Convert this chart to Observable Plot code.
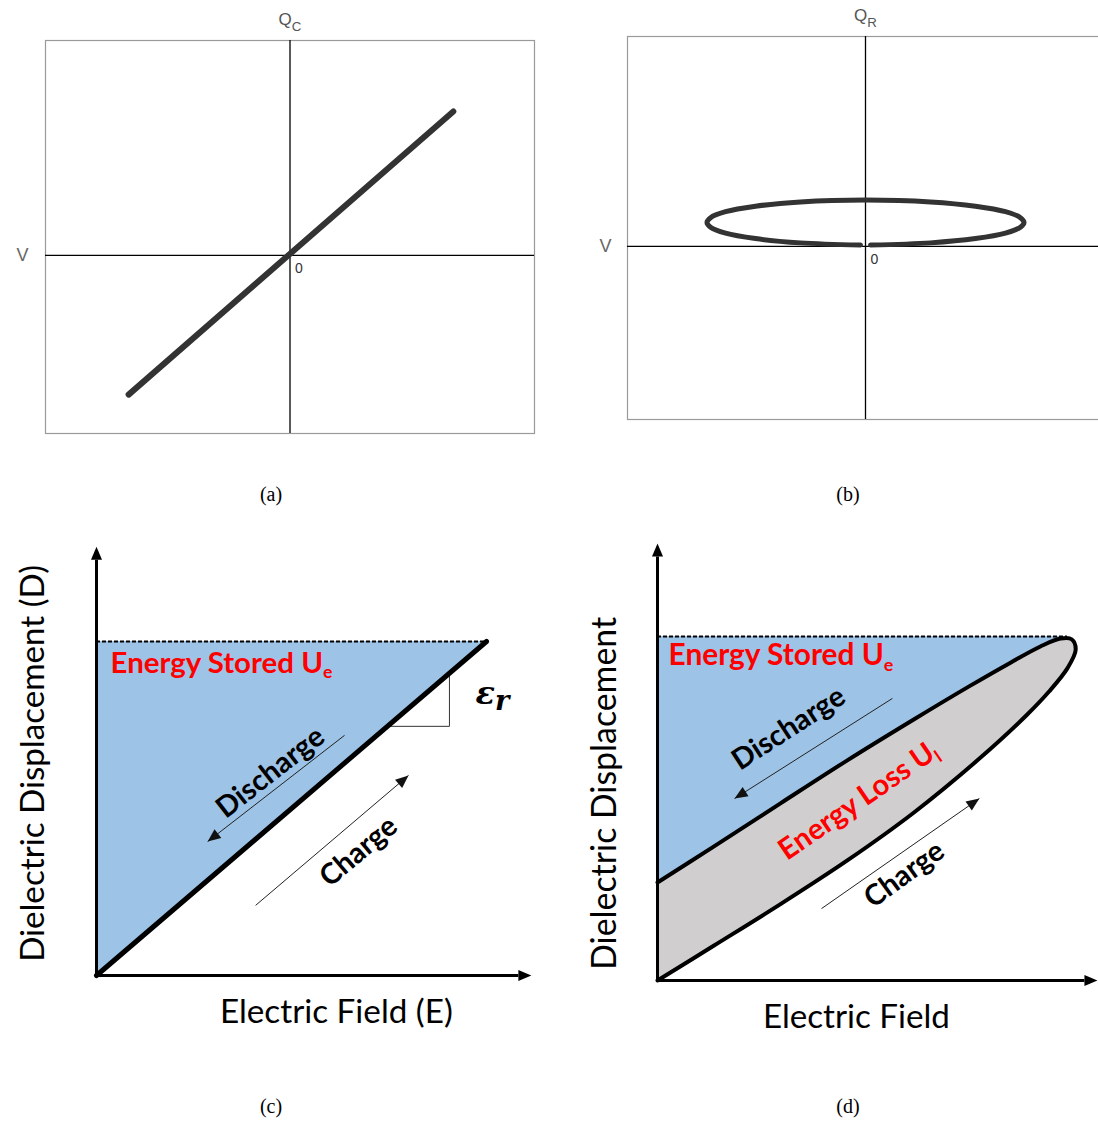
<!DOCTYPE html>
<html><head><meta charset="utf-8">
<script src="https://cdn.jsdelivr.net/npm/d3@7"></script>
<script src="https://cdn.jsdelivr.net/npm/@observablehq/plot@0.6"></script>
<style>
html,body{margin:0;padding:0;background:#fff;}
body{width:1098px;height:1121px;overflow:hidden;position:relative;}
.panel{position:absolute;}
.panel svg{max-width:none !important;}
.cap{position:absolute;font-family:"Liberation Serif","Times New Roman",serif;font-size:20px;color:#000;transform:translate(-50%,-50%);white-space:nowrap;}
</style></head><body>
<script>
// ---------- DATA ----------
// (a) capacitor: V (horizontal) vs Q_C (vertical), arbitrary units
const aV = [-0.660, 0.668];
const aQ = [-0.569, 0.589];
// (b) resistor loop: V vs Q_R
const bV = [0.021,0.273,0.462,0.588,0.651,0.666,0.651,0.588,0.462,0.273,0,-0.273,-0.462,-0.588,-0.651,-0.666,-0.651,-0.588,-0.462,-0.273,-0.021];
const bQ = [0.006,0.015,0.033,0.056,0.081,0.101,0.121,0.146,0.169,0.187,0.195,0.187,0.169,0.146,0.121,0.101,0.081,0.056,0.033,0.015,0.006];
// (c) linear dielectric: E vs D
const cE = [0, 1];
const cD = [0, 1];
const cDmax = 1;
// (d) lossy dielectric hysteresis
const dUpperE = [0, 0.137, 0.300, 0.463, 0.624, 0.760, 0.861, 0.934, 0.983];
const dUpperD = [0.285, 0.389, 0.515, 0.640, 0.758, 0.855, 0.924, 0.971, 0.994];
const dTipE = [1.010, 1.020];
const dTipD = [0.992, 0.962];
const dLowerE = [1.0, 0.955, 0.900, 0.788, 0.624, 0.463, 0.300, 0.137, 0];
const dLowerD = [0.908, 0.840, 0.771, 0.648, 0.487, 0.349, 0.222, 0.101, 0];
const dDmax = 1;
// annotation arrows (data units)
const cArrows = [
  {label:"Discharge", x1:0.636, y1:0.719, x2:0.285, y2:0.401},
  {label:"Charge", x1:0.408, y1:0.210, x2:0.800, y2:0.599}
];
const dArrows = [
  {label:"Discharge", x1:0.573, y1:0.820, x2:0.188, y2:0.529},
  {label:"Charge", x1:0.400, y1:0.209, x2:0.785, y2:0.529}
];
const captions = ["(a)", "(b)", "(c)", "(d)"];

// ---------- helpers ----------
const NS = "http://www.w3.org/2000/svg";
function arrowHead(angleDeg, len = 13, half = 5.5) {
  const a = angleDeg * Math.PI / 180, c = Math.cos(a), s = Math.sin(a);
  return {draw(ctx) {
    const bx = -len * c, by = -len * s, px = -s * half, py = c * half;
    ctx.moveTo(0, 0); ctx.lineTo(bx + px, by + py); ctx.lineTo(bx - px, by - py); ctx.closePath();
  }};
}
function screenAngle(a, kx, ky) {
  return Math.atan2(-(a.y2 - a.y1) * ky, (a.x2 - a.x1) * kx) * 180 / Math.PI;
}
const subStyle = {e:[0.6,0.3], l:[0.6,0.3], C:[0.78,0.5], R:[0.78,0.5], r:[0.85,0.22]};
function subify(svg) {
  for (const t of svg.querySelectorAll("text")) {
    const s = t.textContent, i = s.indexOf("_");
    if (i < 0) continue;
    const base = s.slice(0, i), sub = s.slice(i + 1);
    while (t.firstChild) t.removeChild(t.firstChild);
    const t1 = document.createElementNS(NS, "tspan"); t1.textContent = base;
    const t2 = document.createElementNS(NS, "tspan"); t2.textContent = sub;
    const st = subStyle[sub] || [0.65, 0.3];
    t2.setAttribute("font-size", st[0] + "em");
    t2.setAttribute("dy", st[1] + "em");
    t.append(t1, t2);
  }
}
function fit(svg, targets) {
  for (const t of svg.querySelectorAll("text")) {
    const key = t.textContent;
    if (targets[key]) {
      const fs = parseFloat(getComputedStyle(t).fontSize);
      const w = t.getComputedTextLength();
      if (w > 0) t.style.fontSize = (fs * targets[key] / w) + "px";
    }
  }
}
function mount(svg, left, top) {
  const d = document.createElement("div");
  d.className = "panel"; d.style.left = left + "px"; d.style.top = top + "px";
  d.append(svg); document.body.append(d);
  return svg;
}
const baseStyle = {background: "transparent", overflow: "visible", maxWidth: "none"};
const sans = "Liberation Sans, Arial, sans-serif";
const cal = "Lato, Carlito, Calibri, sans-serif";

// ---------- (a) ----------
const aTable = aV.map((v, i) => ({V: v, Q: aQ[i]}));
const plotA = Plot.plot({
  width: 549, height: 460, marginLeft: 45, marginRight: 15, marginTop: 40, marginBottom: 27,
  x: {domain: [-1, 1], axis: null}, y: {domain: [-0.728, 0.879], axis: null},
  style: baseStyle,
  marks: [
    Plot.frame({stroke: "#9a9a9a", strokeWidth: 1.2}),
    Plot.ruleX([0], {stroke: "#000", strokeWidth: 1.3}),
    Plot.ruleY([0], {stroke: "#000", strokeWidth: 1.3}),
    Plot.line(aTable, {x: "V", y: "Q", stroke: "#333", strokeWidth: 6, strokeLinecap: "round"}),
    Plot.text(["Q_C"], {x: 0, text: d => d, frameAnchor: "top", dy: -16, lineAnchor: "bottom", fill: "#555", fontSize: 17, fontFamily: sans}),
    Plot.text(["V"], {y: 0, text: d => d, frameAnchor: "left", dx: -29, fill: "#666", fontSize: 18, fontFamily: sans}),
    Plot.text(["0"], {x: 0, y: 0, text: d => d, dx: 9, dy: 13, fill: "#333", fontSize: 14, fontFamily: sans})
  ]
});
mount(plotA, 0, 0); subify(plotA);

// ---------- (b) ----------
const bTable = bV.map((v, i) => ({V: v, Q: bQ[i]}));
const plotB = Plot.plot({
  width: 569, height: 460, marginLeft: 78, marginRight: 15, marginTop: 36, marginBottom: 41,
  x: {domain: [-1, 1], axis: null}, y: {domain: [-0.727, 0.882], axis: null},
  style: baseStyle,
  marks: [
    Plot.frame({stroke: "#9a9a9a", strokeWidth: 1.2}),
    Plot.ruleX([0], {stroke: "#000", strokeWidth: 1.3}),
    Plot.ruleY([0], {stroke: "#000", strokeWidth: 1.3}),
    Plot.line(bTable, {x: "V", y: "Q", curve: "catmull-rom", stroke: "#333", strokeWidth: 5}),
    Plot.text(["Q_R"], {x: 0, text: d => d, frameAnchor: "top", dy: -16, lineAnchor: "bottom", fill: "#555", fontSize: 17, fontFamily: sans}),
    Plot.text(["V"], {y: 0, text: d => d, frameAnchor: "left", dx: -28, fill: "#666", fontSize: 18, fontFamily: sans}),
    Plot.text(["0"], {x: 0, y: 0, text: d => d, dx: 9, dy: 13, fill: "#333", fontSize: 14, fontFamily: sans})
  ]
});
mount(plotB, 549, 0); subify(plotB);

// ---------- (c) ----------
const cTable = cE.map((e, i) => ({E: e, D: cD[i]}));
const ckx = 390, cky = 334;
const cAxisTopY = 1.284, cAxisEndX = 1.115;
const cSlope = [{E: cD[1] * 0.746, D: 0.746}, {E: 0.905, D: 0.746}, {E: 0.905, D: 0.905}];
const plotC = Plot.plot({
  width: 549, height: 560, marginLeft: 96, marginRight: 63, marginTop: 111, marginBottom: 115,
  x: {domain: [0, 1], axis: null}, y: {domain: [0, 1], axis: null},
  style: baseStyle,
  marks: [
    Plot.areaY(cTable, {x: "E", y1: "D", y2: cDmax, fill: "#9DC3E6"}),
    Plot.line(cSlope, {x: "E", y: "D", stroke: "#333", strokeWidth: 1}),
    Plot.ruleY([cDmax], {x1: 0, x2: 1, stroke: "#000", strokeWidth: 1.8, strokeDasharray: "4,2"}),
    Plot.line(cTable, {x: "E", y: "D", stroke: "#000", strokeWidth: 5, strokeLinecap: "round"}),
    Plot.line([{x: 0, y: cAxisTopY - 13 / cky}, {x: 0, y: 0}, {x: cAxisEndX - 13 / ckx, y: 0}], {x: "x", y: "y", stroke: "#000", strokeWidth: 3, strokeLinejoin: "miter", strokeLinecap: "butt"}),
    Plot.dot([{x: 0, y: cAxisTopY}], {x: "x", y: "y", symbol: arrowHead(-90), fill: "#000", stroke: "none", r: 5}),
    Plot.dot([{x: cAxisEndX, y: 0}], {x: "x", y: "y", symbol: arrowHead(0), fill: "#000", stroke: "none", r: 5}),
    Plot.link(cArrows, {x1: "x1", y1: "y1", x2: "x2", y2: "y2", stroke: "#222", strokeWidth: 1}),
    ...cArrows.map(a => Plot.dot([a], {x: "x2", y: "y2", symbol: arrowHead(screenAngle(a, ckx, cky), 13, 5.5), fill: "#111", stroke: "none", r: 5})),
    Plot.text(["Energy Stored U_e"], {x: 0.036, y: 0.907, text: d => d, textAnchor: "start", lineAnchor: "bottom", fill: "#FF0000", fontWeight: "bold", fontSize: 28, fontFamily: cal}),
    Plot.text(["Discharge"], {x: 0.446, y: 0.608, text: d => d, rotate: -38, fill: "#000", fontWeight: "bold", fontSize: 28, fontFamily: cal}),
    Plot.text(["Charge"], {x: 0.672, y: 0.371, text: d => d, rotate: -40, fill: "#000", fontWeight: "bold", fontSize: 28, fontFamily: cal}),
    Plot.text(["ε_r"], {x: 0.972, y: 0.814, text: d => d, textAnchor: "start", lineAnchor: "bottom", fill: "#000", fontWeight: "bold", fontStyle: "italic", fontSize: 32, fontFamily: "DejaVu Serif, serif"}),
    Plot.text(["Electric Field (E)"], {x: 0.615, y: -0.111, text: d => d, fill: "#000", fontSize: 33, fontFamily: cal}),
    Plot.text(["Dielectric Displacement (D)"], {x: -0.162, y: 0.635, text: d => d, rotate: -90, fill: "#000", fontSize: 33, fontFamily: cal})
  ]
});
mount(plotC, 0, 530); subify(plotC);
fit(plotC, {"Energy Stored Ue": 222, "Discharge": 128, "Charge": 91, "Electric Field (E)": 233, "Dielectric Displacement (D)": 397});

// ---------- (d) ----------
const dUpper = dUpperE.map((e, i) => ({E: e, D: dUpperD[i]}));
const dLoop = [
  ...dUpper,
  ...dTipE.map((e, i) => ({E: e, D: dTipD[i]})),
  ...dLowerE.map((e, i) => ({E: e, D: dLowerD[i]}))
];
const dkx = 410, dky = 344;
const dAxisTopY = 1.270, dAxisEndX = 1.073;
const plotD = Plot.plot({
  width: 549, height: 560, marginLeft: 108, marginRight: 31, marginTop: 106, marginBottom: 110,
  x: {domain: [0, 1], axis: null}, y: {domain: [0, 1], axis: null},
  style: baseStyle,
  marks: [
    Plot.areaY(dUpper, {x: "E", y1: "D", y2: dDmax, curve: "catmull-rom", fill: "#9DC3E6"}),
    Plot.line(dLoop, {x: "E", y: "D", curve: "catmull-rom", fill: "#D0CECE", stroke: "#000", strokeWidth: 4}),
    Plot.ruleY([dDmax], {x1: 0, x2: 1, stroke: "#000", strokeWidth: 1.8, strokeDasharray: "4,2"}),
    Plot.line([{x: 0, y: dAxisTopY - 13 / dky}, {x: 0, y: 0}, {x: dAxisEndX - 13 / dkx, y: 0}], {x: "x", y: "y", stroke: "#000", strokeWidth: 3, strokeLinejoin: "miter", strokeLinecap: "butt"}),
    Plot.dot([{x: 0, y: dAxisTopY}], {x: "x", y: "y", symbol: arrowHead(-90), fill: "#000", stroke: "none", r: 5}),
    Plot.dot([{x: dAxisEndX, y: 0}], {x: "x", y: "y", symbol: arrowHead(0), fill: "#000", stroke: "none", r: 5}),
    Plot.link(dArrows, {x1: "x1", y1: "y1", x2: "x2", y2: "y2", stroke: "#222", strokeWidth: 1}),
    ...dArrows.map(a => Plot.dot([a], {x: "x2", y: "y2", symbol: arrowHead(screenAngle(a, dkx, dky), 13, 5.5), fill: "#111", stroke: "none", r: 5})),
    Plot.text(["Energy Stored U_e"], {x: 0.027, y: 0.916, text: d => d, textAnchor: "start", lineAnchor: "bottom", fill: "#FF0000", fontWeight: "bold", fontSize: 28, fontFamily: cal}),
    Plot.text(["Discharge"], {x: 0.320, y: 0.733, text: d => d, rotate: -33, fill: "#000", fontWeight: "bold", fontSize: 28, fontFamily: cal}),
    Plot.text(["Energy Loss U_l"], {x: 0.490, y: 0.523, text: d => d, rotate: -34.5, fill: "#FF0000", fontWeight: "bold", fontSize: 28, fontFamily: cal}),
    Plot.text(["Charge"], {x: 0.602, y: 0.308, text: d => d, rotate: -36, fill: "#000", fontWeight: "bold", fontSize: 28, fontFamily: cal}),
    Plot.text(["Electric Field"], {x: 0.485, y: -0.108, text: d => d, fill: "#000", fontSize: 33, fontFamily: cal}),
    Plot.text(["Dielectric Displacement"], {x: -0.127, y: 0.544, text: d => d, rotate: -90, fill: "#000", fontSize: 33, fontFamily: cal})
  ]
});
mount(plotD, 549, 530); subify(plotD);
fit(plotD, {"Energy Stored Ue": 225, "Discharge": 128, "Energy Loss Ul": 186, "Charge": 91, "Electric Field": 187, "Dielectric Displacement": 353});

// ---------- captions ----------
const capPos = [[271, 494], [848, 494], [271, 1106], [848, 1106]];
captions.forEach((c, i) => {
  const el = document.createElement("div");
  el.className = "cap"; el.textContent = c;
  el.style.left = capPos[i][0] + "px"; el.style.top = capPos[i][1] + "px";
  document.body.append(el);
});
</script></body></html>
